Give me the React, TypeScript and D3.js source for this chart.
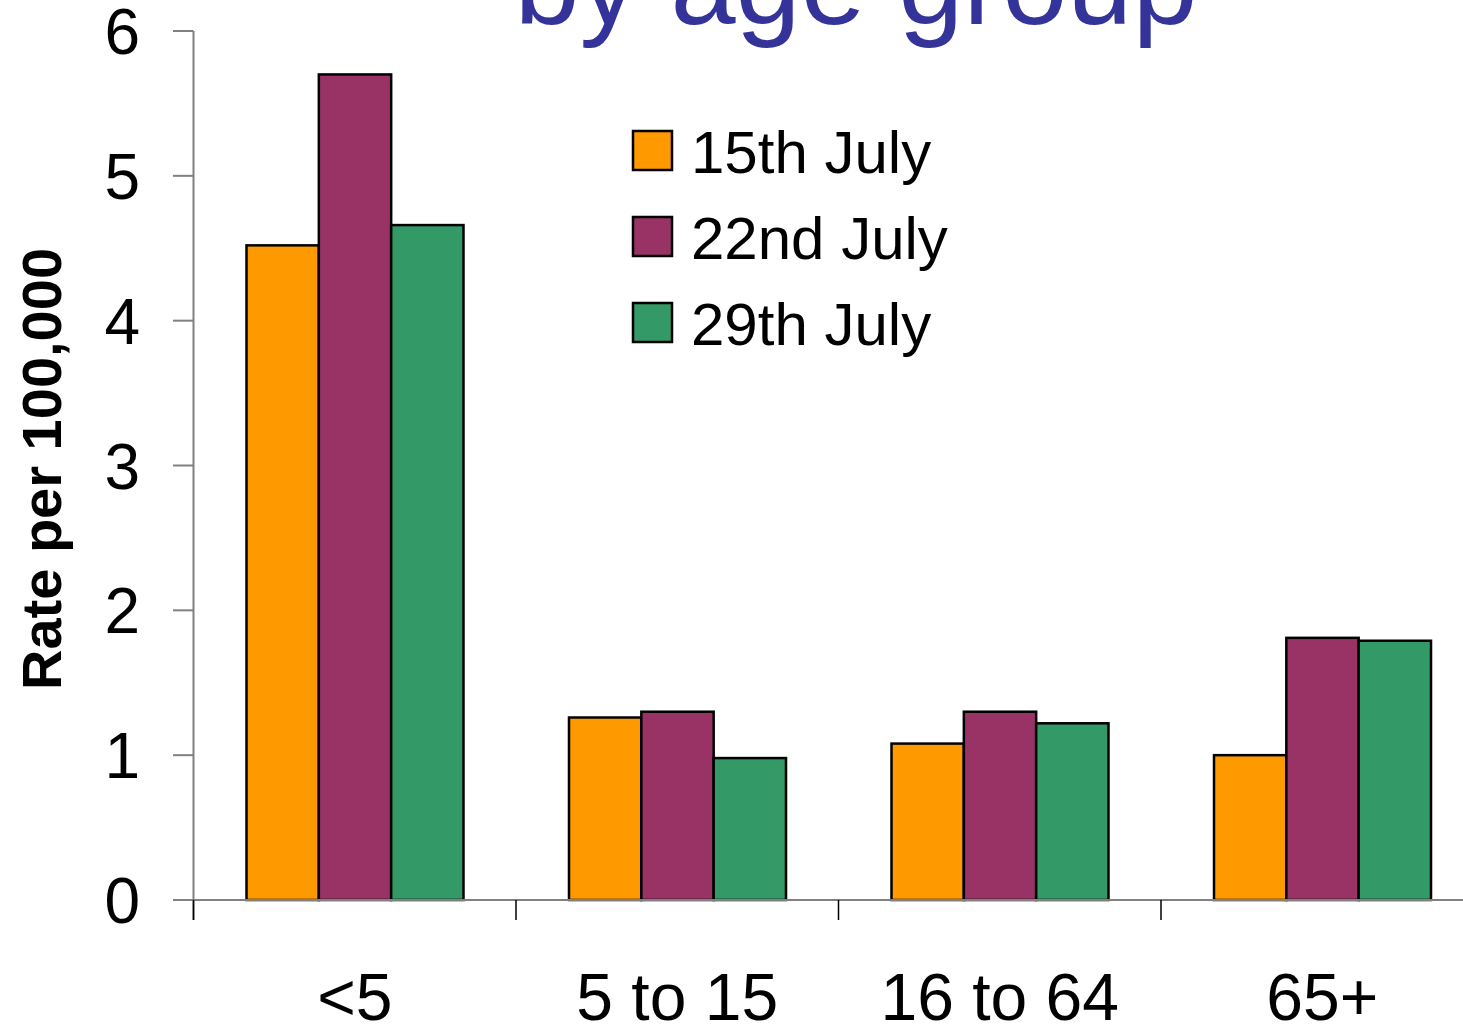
import React from "react";
import * as d3 from "d3";

const categories = ["<5", "5 to 15", "16 to 64", "65+"];
const seriesNames = ["15th July", "22nd July", "29th July"];
const values15 = [4.52, 1.26, 1.08, 1.0];
const values22 = [5.7, 1.3, 1.3, 1.81];
const values29 = [4.66, 0.98, 1.22, 1.79];
const seriesColors = ["#FF9900", "#993366", "#339966"];
const yTicks = [0, 1, 2, 3, 4, 5, 6];

const W = 1463;
const H = 1026;
const FONT = "'Liberation Sans', Arial, sans-serif";

export default function App() {
  const series = [values15, values22, values29];
  const y = d3.scaleLinear().domain([0, 6]).range([900, 31]);
  const x = d3.scaleBand<string>().domain(categories).range([193.5, 193.5 + 322.5 * 4]).paddingInner(0).paddingOuter(0);
  const bw = x.bandwidth();
  const inner = d3.scaleBand<string>().domain(seriesNames).range([53, bw - 52.5]).padding(0);
  const axisX = 193.5;
  const baseY = y(0);

  return (
    <svg width={W} height={H} style={{ position: "absolute", left: 0, top: 0, background: "#fff" }}>
      <rect x={0} y={0} width={W} height={H} fill="#fff" />
      <text x={856} y={24} textAnchor="middle" fontFamily={FONT} fontSize={117} fill="#333399">
        by age group
      </text>

      {/* bars */}
      {categories.map((c, ci) =>
        seriesNames.map((s, si) => {
          const v = series[si][ci];
          const bx = (x(c) as number) + (inner(s) as number);
          return (
            <rect
              key={c + s}
              x={bx}
              y={y(v)}
              width={inner.bandwidth()}
              height={baseY - y(v)}
              fill={seriesColors[si]}
              stroke="#000"
              strokeWidth={2.5}
            />
          );
        })
      )}

      {/* y axis */}
      <line x1={axisX} x2={axisX} y1={y(6)} y2={baseY + 20} stroke="#808080" strokeWidth={2} />
      {yTicks.map((t) => (
        <g key={t}>
          <line x1={173} x2={axisX} y1={y(t)} y2={y(t)} stroke="#808080" strokeWidth={2} />
          <text x={140} y={y(t)} dy="0.36em" textAnchor="end" fontFamily={FONT} fontSize={64} fill="#000">
            {t}
          </text>
        </g>
      ))}

      {/* x axis */}
      <line x1={173} x2={W} y1={baseY} y2={baseY} stroke="#808080" strokeWidth={2} />
      {categories.map((c) => (
        <g key={c}>
          <line x1={(x(c) as number)} x2={(x(c) as number)} y1={baseY} y2={baseY + 20} stroke="#000" strokeWidth={1.5} />
          <text
            x={(x(c) as number) + bw / 2}
            y={1020}
            textAnchor="middle"
            fontFamily={FONT}
            fontSize={66}
            fill="#000"
          >
            {c}
          </text>
        </g>
      ))}

      {/* y label */}
      <text
        transform={`translate(61,469) rotate(-90)`}
        textAnchor="middle"
        fontFamily={FONT}
        fontSize={56}
        fontWeight="bold"
        fill="#000"
      >
        Rate per 100,000
      </text>

      {/* legend */}
      {seriesNames.map((s, i) => (
        <g key={s} transform={`translate(633,${131 + i * 86})`}>
          <rect x={0} y={0} width={39} height={39} fill={seriesColors[i]} stroke="#000" strokeWidth={2.5} />
          <text x={58} y={42} fontFamily={FONT} fontSize={60} fill="#000">
            {s}
          </text>
        </g>
      ))}
    </svg>
  );
}
